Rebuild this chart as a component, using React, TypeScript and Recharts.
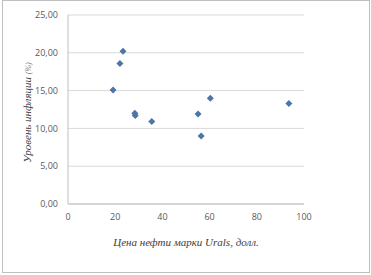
import React from 'react';
import { ScatterChart, Scatter, XAxis, YAxis, CartesianGrid, Label } from 'recharts';

const oilPrice = [19.1, 22.0, 23.3, 28.3, 28.5, 35.5, 55.1, 56.4, 60.3, 93.6];
const inflation = [15.08, 18.6, 20.2, 12.0, 11.7, 10.9, 11.9, 9.0, 14.0, 13.3];
const yTicks = [0, 5, 10, 15, 20, 25];
const xTicks = [0, 20, 40, 60, 80, 100];

const data = oilPrice.map((x, i) => ({ x, y: inflation[i] }));

const Diamond = (props: any) => {
  const { cx, cy } = props;
  const r = 3.5;
  return (
    <polygon
      points={`${cx},${cy - r} ${cx + r},${cy} ${cx},${cy + r} ${cx - r},${cy}`}
      fill="#4A76A8"
    />
  );
};

const tickStyle = { fontSize: 9, fill: '#595959', fontFamily: "'Open Sans', 'Liberation Sans', sans-serif" };
const serif = "'Liberation Serif', 'DejaVu Serif', serif";

export default function App() {
  return (
    <div style={{ position: 'absolute', left: 0, top: 0, width: 371, height: 275, background: '#fff' }}>
      <div style={{ position: 'absolute', left: 2, top: 0, width: 366, height: 271, border: '1px solid #bfbfbf' }} />
      <div style={{ position: 'absolute', left: 0, top: 0 }}>
        <ScatterChart width={371} height={275} margin={{ top: 15, right: 67, bottom: 0, left: 0 }}>
          <CartesianGrid horizontal={true} vertical={false} stroke="#d9d9d9" />
          <XAxis
            type="number"
            dataKey="x"
            domain={[0, 100]}
            ticks={xTicks}
            height={71}
            tickSize={0}
            tickMargin={10}
            tick={tickStyle}
            axisLine={{ stroke: '#bfbfbf' }}
            tickLine={false}
          >
            <Label
              content={(p: any) => {
                const vb = p.viewBox;
                return (
                  <text
                    x={vb.x + vb.width / 2}
                    y={vb.y + 42}
                    textAnchor="middle"
                    style={{ fontFamily: serif, fontStyle: 'italic', fontSize: 11 }}
                    fill="#404040"
                  >
                    Цена нефти марки Urals, долл.
                  </text>
                );
              }}
            />
          </XAxis>
          <YAxis
            type="number"
            dataKey="y"
            domain={[0, 25]}
            ticks={yTicks}
            width={68}
            tickSize={0}
            tickMargin={10}
            tick={tickStyle}
            tickFormatter={(v: number) => v.toFixed(2).replace('.', ',')}
            axisLine={{ stroke: '#bfbfbf' }}
            tickLine={false}
          >
            <Label
              content={(p: any) => {
                const vb = p.viewBox;
                const cx = 31;
                const cy = vb.y + vb.height / 2 + 3;
                return (
                  <text
                    x={cx}
                    y={cy}
                    transform={`rotate(-90 ${cx} ${cy})`}
                    textAnchor="middle"
                    style={{ fontFamily: serif, fontStyle: 'italic', fontSize: 11 }}
                    fill="#404040"
                  >
                    Уровень инфляции <tspan style={{ fontSize: 8 }} fill="#7f7f7f">(%)</tspan>
                  </text>
                );
              }}
            />
          </YAxis>
          <Scatter data={data} shape={<Diamond />} isAnimationActive={false} />
        </ScatterChart>
      </div>
    </div>
  );
}
